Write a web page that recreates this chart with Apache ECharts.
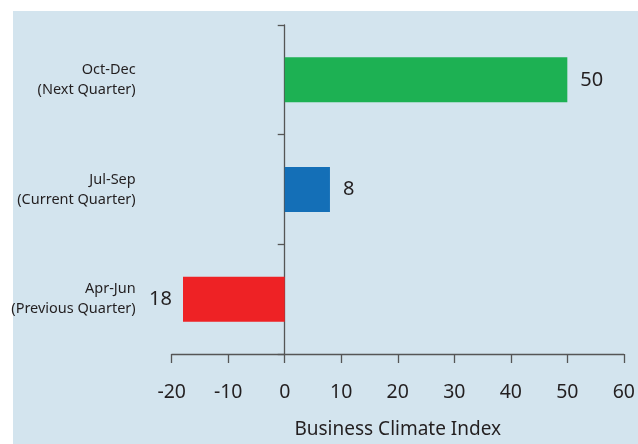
<!DOCTYPE html>
<html><head><meta charset="utf-8">
<script src="https://cdn.jsdelivr.net/npm/echarts@6/dist/echarts.min.js"></script>
<style>html,body{margin:0;padding:0;background:#fff}#c{width:638px;height:444px}</style>
</head><body><div id="c"></div>
<script>
const categories = ['Apr-Jun\n(Previous Quarter)', 'Jul-Sep\n(Current Quarter)', 'Oct-Dec\n(Next Quarter)'];
const values = [-18, 8, 50];
const barColors = ['#ee2225', '#146fb7', '#1db153'];
const xTicks = { min: -20, max: 60, interval: 10 };
const xTitle = 'Business Climate Index';

const font = '"Noto Sans", sans-serif';
const txt = '#231f20';
const chart = echarts.init(document.getElementById('c'));
chart.setOption({
  animation: false,
  backgroundColor: '#ffffff',
  graphic: [{ type: 'rect', z: -100, shape: { x: 13, y: 11, width: 640, height: 440 }, style: { fill: '#d3e4ee' } }],
  grid: { left: 171.7, right: 12, top: 25, bottom: 90 },
  xAxis: {
    type: 'value', min: xTicks.min, max: xTicks.max, interval: xTicks.interval,
    name: xTitle, nameLocation: 'middle', nameGap: 66,
    nameTextStyle: { fontFamily: font, fontSize: 19, color: txt },
    axisLine: { show: true, lineStyle: { color: '#555', width: 1.3 } },
    axisTick: { show: true, length: 9, lineStyle: { color: '#555', width: 1.3 } },
    axisLabel: { fontFamily: font, fontSize: 19.5, color: txt, margin: 28 },
    splitLine: { show: false }
  },
  yAxis: [{
    type: 'category', data: categories,
    axisLine: { show: true, onZero: true, lineStyle: { color: '#555', width: 1.3 } },
    axisTick: { show: true, length: 7, lineStyle: { color: '#555', width: 1.3 } },
    axisLabel: { show: false }
  }, {
    type: 'category', data: categories, position: 'left',
    axisLine: { show: false, onZero: false }, axisTick: { show: false },
    axisLabel: { fontFamily: font, fontSize: 14.5, color: txt, lineHeight: 20, margin: 36, align: 'right' }
  }],
  series: [{
    type: 'bar', yAxisIndex: 0, barWidth: 45,
    data: values.map((v, i) => ({
      value: v,
      itemStyle: { color: barColors[i] },
      label: { show: true, position: v < 0 ? 'left' : 'right', distance: v < 0 ? 11 : 13,
        formatter: p => String(Math.abs(p.value)), fontFamily: font, fontSize: 20, color: txt }
    }))
  }]
});
</script></body></html>
